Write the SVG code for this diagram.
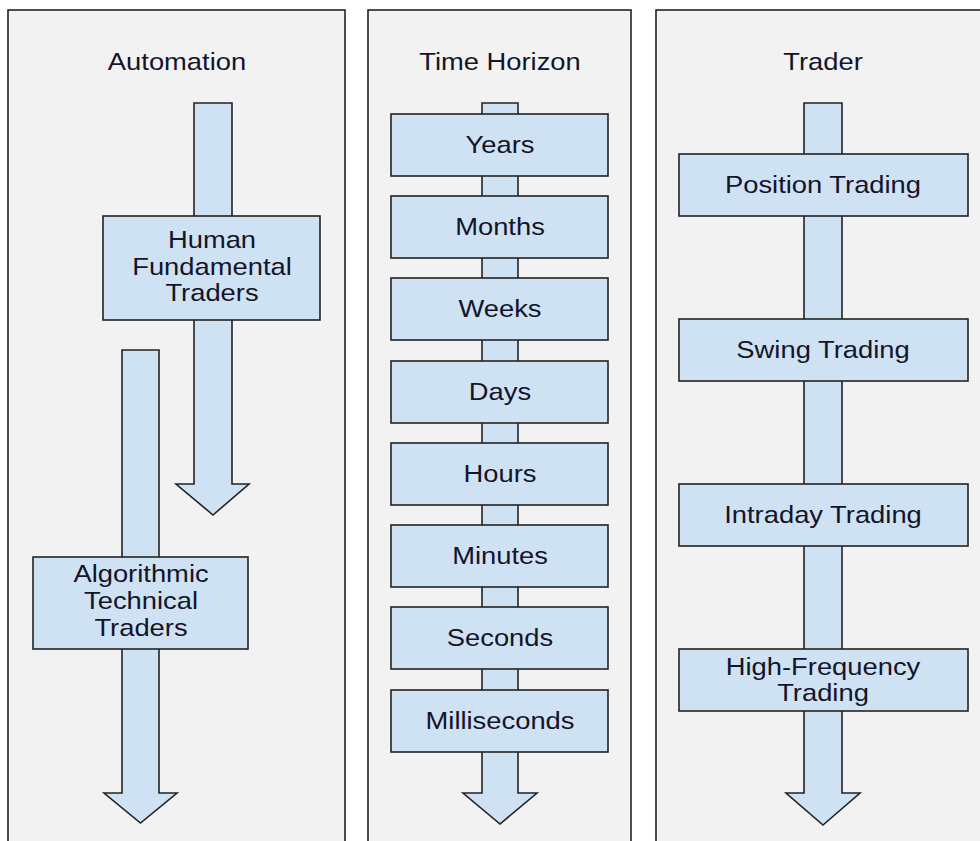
<svg xmlns="http://www.w3.org/2000/svg" width="980" height="841" viewBox="0 0 980 841">
  <style>
    .panel { fill: #f2f2f2; stroke: #222; stroke-width: 1.6; }
    .flow { fill: #cfe2f3; stroke: #222; stroke-width: 1.6; stroke-linejoin: miter; }
    .box { fill: #cfe2f3; stroke: #222; stroke-width: 1.6; }
    text { font-family: "Liberation Sans", Arial, sans-serif; font-size: 24px; fill: #14142a; text-anchor: middle; }
  </style>

  <rect width="980" height="841" fill="#ffffff"/>

  <!-- column panels -->
  <g id="panels">
    <rect class="panel" x="8" y="10" width="337" height="850"/>
    <rect class="panel" x="368" y="10" width="263" height="850"/>
    <rect class="panel" x="656" y="10" width="340" height="850"/>
  </g>

  <!-- column titles (text is set slightly wide: matrix scales x by 1.14) -->
  <g id="titles">
    <text id="title-automation" transform="matrix(1.14 0 0 1 177 70)">Automation</text>
    <text id="title-time" transform="matrix(1.14 0 0 1 500 70)">Time Horizon</text>
    <text id="title-trader" transform="matrix(1.14 0 0 1 823 70)">Trader</text>
  </g>

  <!-- block arrows -->
  <g id="connectors">
    <polygon class="flow" points="194,103 232,103 232,484 249,484 213,515 176,484 194,484"/>
    <polygon class="flow" points="122,350 159,350 159,793 177,793 140.5,823 104,793 122,793"/>
    <polygon class="flow" points="482,103 518,103 518,793 537,793 500,824 463,793 482,793"/>
    <polygon class="flow" points="804,103 842,103 842,793 860,793 823,825 786,793 804,793"/>
  </g>

  <!-- Automation column -->
  <g id="human-fundamental">
    <rect class="box" x="103" y="216" width="217" height="104"/>
    <text transform="matrix(1.14 0 0 1 212 248)">Human</text>
    <text transform="matrix(1.14 0 0 1 212 275)">Fundamental</text>
    <text transform="matrix(1.14 0 0 1 212 301)">Traders</text>
  </g>
  <g id="algorithmic-technical">
    <rect class="box" x="33" y="557" width="215" height="92"/>
    <text transform="matrix(1.14 0 0 1 141 582)">Algorithmic</text>
    <text transform="matrix(1.14 0 0 1 141 609)">Technical</text>
    <text transform="matrix(1.14 0 0 1 141 636)">Traders</text>
  </g>

  <!-- Time Horizon column -->
  <g id="years"><rect class="box" x="391" y="114" width="217" height="62"/><text transform="matrix(1.14 0 0 1 500 153)">Years</text></g>
  <g id="months"><rect class="box" x="391" y="196" width="217" height="62"/><text transform="matrix(1.14 0 0 1 500 235)">Months</text></g>
  <g id="weeks"><rect class="box" x="391" y="278" width="217" height="62"/><text transform="matrix(1.14 0 0 1 500 317)">Weeks</text></g>
  <g id="days"><rect class="box" x="391" y="361" width="217" height="62"/><text transform="matrix(1.14 0 0 1 500 400)">Days</text></g>
  <g id="hours"><rect class="box" x="391" y="443" width="217" height="62"/><text transform="matrix(1.14 0 0 1 500 482)">Hours</text></g>
  <g id="minutes"><rect class="box" x="391" y="525" width="217" height="62"/><text transform="matrix(1.14 0 0 1 500 564)">Minutes</text></g>
  <g id="seconds"><rect class="box" x="391" y="607" width="217" height="62"/><text transform="matrix(1.14 0 0 1 500 646)">Seconds</text></g>
  <g id="milliseconds"><rect class="box" x="391" y="690" width="217" height="62"/><text transform="matrix(1.14 0 0 1 500 729)">Milliseconds</text></g>

  <!-- Trader column -->
  <g id="position-trading"><rect class="box" x="679" y="154" width="289" height="62"/><text transform="matrix(1.14 0 0 1 823 193)">Position Trading</text></g>
  <g id="swing-trading"><rect class="box" x="679" y="319" width="289" height="62"/><text transform="matrix(1.14 0 0 1 823 358)">Swing Trading</text></g>
  <g id="intraday-trading"><rect class="box" x="679" y="484" width="289" height="62"/><text transform="matrix(1.14 0 0 1 823 523)">Intraday Trading</text></g>
  <g id="high-frequency-trading">
    <rect class="box" x="679" y="649" width="289" height="62"/>
    <text transform="matrix(1.14 0 0 1 823 675)">High-Frequency</text>
    <text transform="matrix(1.14 0 0 1 823 701)">Trading</text>
  </g>
</svg>
